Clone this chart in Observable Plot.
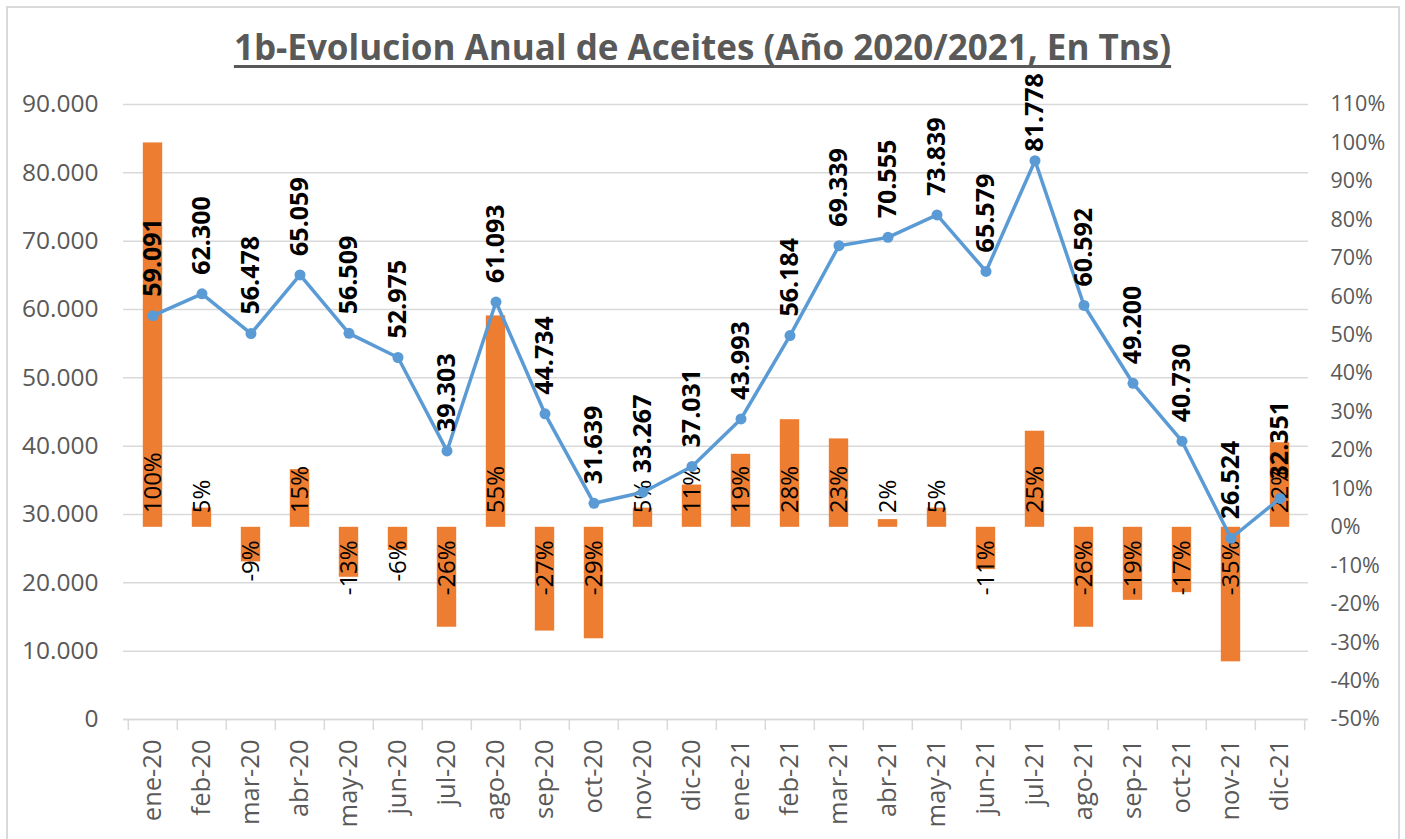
<!DOCTYPE html>
<html>
<head>
<meta charset="utf-8">
<script src="https://cdn.jsdelivr.net/npm/d3@7"></script>
<script src="https://cdn.jsdelivr.net/npm/@observablehq/plot@0.6"></script>
<style>
  html, body { margin: 0; padding: 0; background: #fff; overflow: hidden; }
  #wrap { position: relative; width: 1405px; height: 839px; }
  #frame { position: absolute; left: 6px; top: 6px; width: 1394px; height: 900px; border: 2px solid #D9D9D9; box-sizing: border-box; pointer-events: none; }
  #title { position: relative; z-index: 2; height: 60px; box-sizing: border-box; padding-top: 25px; text-align: center; font-family: "Open Sans", sans-serif; font-weight: bold; font-size: 35px; line-height: 44px; color: #595959; text-decoration: underline; text-underline-offset: 5px; text-decoration-skip-ink: none; white-space: nowrap; }
  #chart svg { display: block; }
</style>
</head>
<body>
<div id="wrap">
  <div id="title">1b-Evolucion Anual de Aceites (Año 2020/2021, En Tns)</div>
  <div id="chart"></div>
  <div id="frame"></div>
</div>
<script>
const months = ["ene-20","feb-20","mar-20","abr-20","may-20","jun-20","jul-20","ago-20","sep-20","oct-20","nov-20","dic-20",
                "ene-21","feb-21","mar-21","abr-21","may-21","jun-21","jul-21","ago-21","sep-21","oct-21","nov-21","dic-21"];
const tons = [59091,62300,56478,65059,56509,52975,39303,61093,44734,31639,33267,37031,
              43993,56184,69339,70555,73839,65579,81778,60592,49200,40730,26524,32351];
const pctChange = [100,5,-9,15,-13,-6,-26,55,-27,-29,5,11,
                   19,28,23,2,5,-11,25,-26,-19,-17,-35,22];
const leftTicks = [0,10000,20000,30000,40000,50000,60000,70000,80000,90000];
const rightTicks = [-50,-40,-30,-20,-10,0,10,20,30,40,50,60,70,80,90,100,110];

// secondary axis: -50%..110% shares the left range 0..90000
const L_MIN = 0, L_MAX = 90000, R_MIN = -50, R_MAX = 110;
const toLeft = p => L_MIN + (p - R_MIN) / (R_MAX - R_MIN) * (L_MAX - L_MIN);
const toRight = v => R_MIN + (v - L_MIN) / (L_MAX - L_MIN) * (R_MAX - R_MIN);

const data = months.map((m, i) => ({month: m, tons: tons[i], pct: pctChange[i]}));
const fmtTons = v => v === 0 ? "0" : d3.format(",")(v).replace(/,/g, ".");

const W = 1405, H = 779, mL = 123, mR = 97, mT = 44, mB = 120;
const band = (W - mL - mR) / months.length;
const barInset = band * 0.3;
const font = "'Open Sans', sans-serif";
const axisColor = "#595959";
const TOP_LIMIT = 80000; // labels above this are nudged closer to the point to stay inside the chart

const labelOpts = {x: "month", y: "tons", text: d => fmtTons(d.tons), rotate: -90, textAnchor: "start", fontSize: 25, fontWeight: "bold", fill: "#000"};

const chart = Plot.plot({
  width: W, height: H,
  marginLeft: mL, marginRight: mR, marginTop: mT, marginBottom: mB,
  style: {fontFamily: font, background: "transparent"},
  x: {type: "band", domain: months, padding: 0},
  y: {domain: [L_MIN, L_MAX]},
  marks: [
    Plot.gridY({ticks: leftTicks, stroke: "#D9D9D9", strokeOpacity: 1, strokeWidth: 1.5}),
    Plot.ruleY([0], {stroke: "#D9D9D9", strokeWidth: 1.5}),
    // category boundary tick marks
    Plot.ruleX(months, {x: d => d, y1: 0, y2: 0, dx: -band / 2, insetBottom: -11, stroke: "#D9D9D9", strokeWidth: 1.5}),
    Plot.ruleX([months[months.length - 1]], {x: d => d, y1: 0, y2: 0, dx: band / 2, insetBottom: -11, stroke: "#D9D9D9", strokeWidth: 1.5}),
    Plot.axisY({ticks: leftTicks, tickFormat: fmtTons, tickSize: 0, tickPadding: 25, fontSize: 24.5, fill: axisColor, anchor: "left", label: null}),
    Plot.axisY({ticks: rightTicks.map(toLeft), tickFormat: v => Math.round(toRight(v)) + "%", tickSize: 0, tickPadding: 22, fontSize: 21.5, fill: axisColor, anchor: "right", label: null}),
    Plot.axisX({tickSize: 0, tickRotate: -90, tickPadding: 20, fontSize: 25.5, fill: axisColor, label: null}),
    Plot.barY(data, {x: "month", y1: () => toLeft(0), y2: d => toLeft(d.pct), fill: "#ED7D31", insetLeft: barInset, insetRight: barInset}),
    Plot.text(data.filter(d => d.pct >= 0), {x: "month", y: () => toLeft(0), text: d => d.pct + "%", rotate: -90, textAnchor: "start", dy: -14, fontSize: 24, fill: "#000"}),
    Plot.text(data.filter(d => d.pct < 0), {x: "month", y: () => toLeft(0), text: d => d.pct + "%", rotate: -90, textAnchor: "end", dy: 13, fontSize: 24, fill: "#000"}),
    Plot.line(data, {x: "month", y: "tons", stroke: "#5B9BD5", strokeWidth: 3.5}),
    Plot.dot(data, {x: "month", y: "tons", r: 5.5, fill: "#5B9BD5"}),
    Plot.text(data.filter(d => d.tons <= TOP_LIMIT), {...labelOpts, dy: -19}),
    Plot.text(data.filter(d => d.tons > TOP_LIMIT), {...labelOpts, dy: -9})
  ]
});
document.getElementById("chart").appendChild(chart);
</script>
</body>
</html>
